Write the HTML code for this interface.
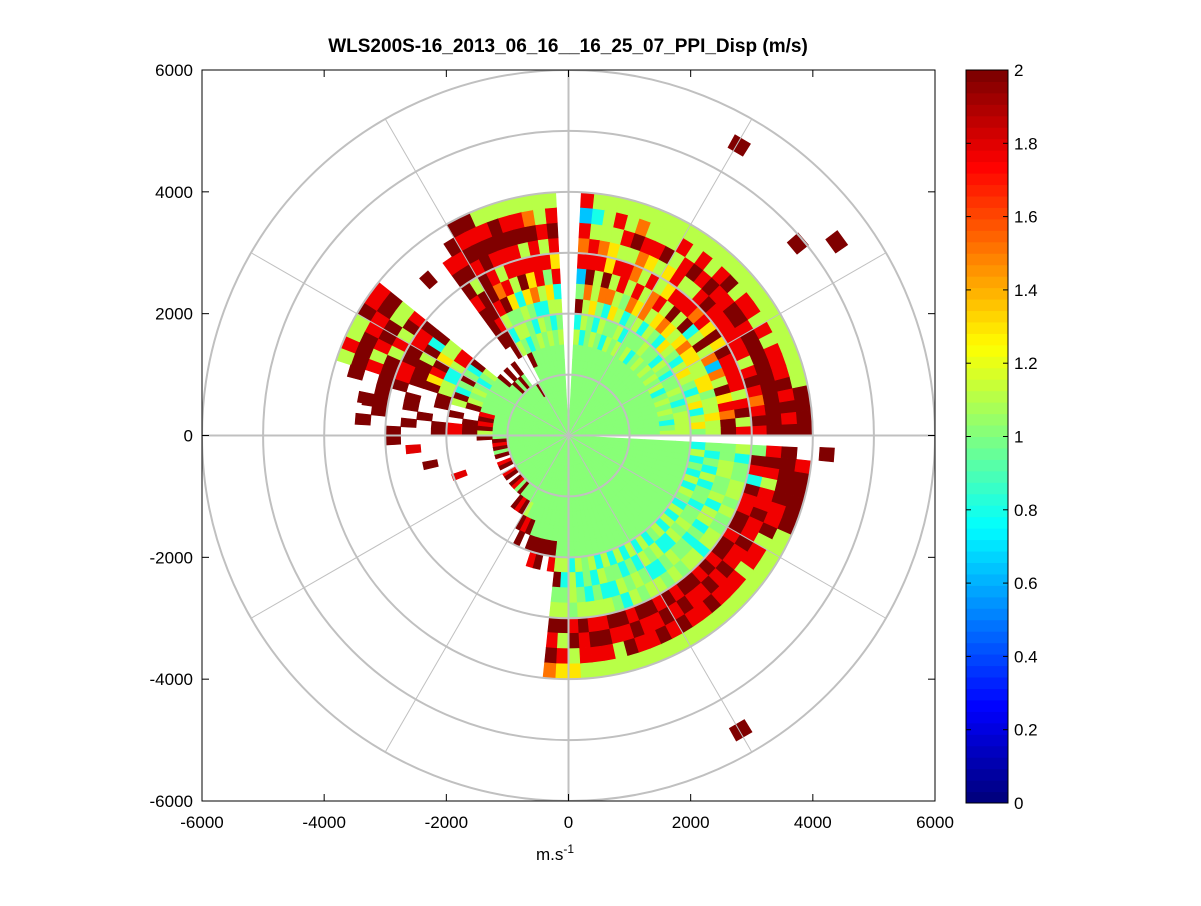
<!DOCTYPE html>
<html><head><meta charset="utf-8"><style>
body{margin:0;background:#fff;font-family:"Liberation Sans",sans-serif;}
svg text{font-family:"Liberation Sans",sans-serif;}
</style></head><body>
<svg id="chart" width="1201" height="901" viewBox="0 0 1201 901" xmlns="http://www.w3.org/2000/svg">
<rect width="1201" height="901" fill="#fff"/>
<text x="568" y="52" text-anchor="middle" font-size="19" font-weight="bold">WLS200S-16_2013_06_16__16_25_07_PPI_Disp (m/s)</text>
<defs><clipPath id="plotclip"><rect x="202" y="70" width="733" height="731"/></clipPath></defs>
<g id="cells" clip-path="url(#plotclip)"></g>
<g id="grid" clip-path="url(#plotclip)"></g>
<rect x="202" y="70" width="733" height="731" fill="none" stroke="#000" stroke-width="1"/>
<g id="axes"></g>
<text x="555" y="860" text-anchor="middle" font-size="17">m.s<tspan dy="-7" font-size="12">-1</tspan></text>
<g id="cbar"></g>
</svg>
<script>
// ---- data ----
const ringStep = 250; // metres per range gate
const rayWidth = 3;   // degrees per ray
const rayAngles = [0,3,6,9,12,15,18,21,24,27,30,33,36,39,42,45,48,51,54,57,60,63,66,69,72,75,78,81,84,
 93,96,99,102,105,108,111,114,117,120,123,
 126,129,132,135,138,
 141,144,147,150,153,156,159,162,165,168,171,174,177,
 180,183,186,189,192,195,198,201,204,207,210,213,216,219,222,225,228,231,234,237,240,243,246,249,252,255,258,261,
 264,267,270,273,276,279,282,285,288,291,294,297,300,303,306,309,312,315,318,321,324,327,330,333,336,339,342,345,348,351,354];
// one char per range gate: digit = level index (see valueLevels), 'X' = 2, '.' = no data
const valueLevels = [0.1,0.3,0.5,0.65,0.8,1.0,1.1,1.3,1.5,1.75];
const rayValues = [
"5555556656X99XXX","5555555676X6XX9X","55555546678X9XXX","5555555646998X9X","5555556576769XX6",
"5555555465X9XX96","5555556547699X96","5555555657896X96","5555554566399X66","55555565768X9X96",
"5555555467679966","5555556547XX9X96","5555555658679X96","5555556467499966","5555555576X8X9X6",
"5555556547699X96","5555555658X96966","5555554567696X96","5555556546979966","5555555568867696",
"5555556457696X66","5555555648967966","5555556565688966","5555554576996X86","5555555648696966",
"5555556458X77696","5555555576698666","5555554668X99646","55555564X5398939",
"5555556564979X96","5555555467596966","5555556546999X86","5555555648796X96","5555556457X99X96",
"5555555564699XX6","5555554657969X96","55555X565X89XX9X","5555..6469XX9X9X","555X..XX9XX6X9X.","5555...XXX9XX9..",
"55555X..........","5555X...........","55555X..........","5555X...........","55555X..........",
"5555556X96XX96X9","555555549649X6X9","5555554567X96X9X","5555555X4X6X9X96","5555556549XX69X6",
"5555555467X9X6X9","5555556X6XX9X9X6","555555X6X..XX.X.","555559..X.X.X...","55555X.X..X.XX..",
"555559X..X..X...","55555XX9X.X..X..","555556X9X..X....",
"55555X.....X....","5555X...........","55559...........","5555X...........","55555...........",
"5555X...........","5555............","55559...........","5555X...........","5555............",
"55559...........","5555X...........","5555............","5555X...........","55559...........",
"55555...........","5555X...........","55555X..........","555559..........","55555X..........",
"555556X.........","5555559X........","555555X.........","5555555X........","5555555X9.......","5555555XX.......",
"5555555X........","5555555X9.......",
"555555556X56X9X8","555555556456X697","5555555546659X67","555555556456X996","5555555555469X96",
"5555555564569X96","555555554646X966","555555556545X9X6","5555555545649X96","555555556456X996",
"555555554565X9X6","5555555564569X96","555555554646X9X6","5555555565459X96","555555554656X996",
"555555555465X9X6","5555555564569X96","555555554656X996","5555555565449X96","555555554656X966",
"555555556546X996","5555555545659X96","555555555465X966","555555556546X9X6","5555555545659X9X",
"555555556456999X","555555554656X9XX","55555555546546XX","55555555456599XX","555555556454XXX9","55555555455659X."
];
// isolated far returns: angle (deg), range (m), value
const outlierAngles = [59.6,40,35.9,131.9,-59.8,-4.2,191.9,185,170,200];
const outlierRanges = [5520,4900,5420,3430,5600,4240,2310,2550,3300,1900];
const outlierValues = [2,2,2,2,2,2,2,1.8,2,1.8];
const cbarTicks = [0,0.2,0.4,0.6,0.8,1,1.2,1.4,1.6,1.8,2];
const axisTicks = [-6000,-4000,-2000,0,2000,4000,6000];
const gridRadii = [1000,2000,3000,4000,5000,6000];
const spokeAngles = [0,30,60,90,120,150,180,210,240,270,300,330];

// ---- scales ----
const X0=202,X1=935,Y0=70,Y1=801;
const xs=v=>X0+(v+6000)/12000*(X1-X0);
const ys=v=>Y1-(v+6000)/12000*(Y1-Y0);
const px=(a,r)=>xs(r*Math.cos(a*Math.PI/180));
const py=(a,r)=>ys(r*Math.sin(a*Math.PI/180));
function jet(v){
  let t=Math.max(0,Math.min(1,v/2)); t=Math.min(63,Math.floor(t*64))/63;
  const f=x=>Math.max(0,Math.min(1,x));
  const r=f(1.5-Math.abs(4*t-3)),g=f(1.5-Math.abs(4*t-2)),b=f(1.5-Math.abs(4*t-1));
  return `rgb(${Math.round(r*255)},${Math.round(g*255)},${Math.round(b*255)})`;
}
const NS='http://www.w3.org/2000/svg';
function cell(parent,a0,a1,r0,r1,v){
  const p=document.createElementNS(NS,'path');
  const d=`M${px(a0,r0)},${py(a0,r0)}L${px(a0,r1)},${py(a0,r1)}L${px(a1,r1)},${py(a1,r1)}L${px(a1,r0)},${py(a1,r0)}Z`;
  p.setAttribute('d',d);p.setAttribute('fill',jet(v));p.setAttribute('stroke',jet(v));p.setAttribute('stroke-width','0.6');
  
  
  parent.appendChild(p);
}
const cells=document.getElementById('cells');
rayAngles.forEach((a,i)=>{
  const s=rayValues[i]||'';
  for(let k=0;k<s.length;k++){
    const c=s[k]; if(c==='.')continue;
    const v=c==='X'?2:valueLevels[parseInt(c)];
    cell(cells,a,a+rayWidth,k*ringStep,(k+1)*ringStep,v);
  }
});
outlierAngles.forEach((a,i)=>{
  cell(cells,a-1.5,a+1.5,outlierRanges[i]-120,outlierRanges[i]+120,outlierValues[i]);
});
// grid
const grid=document.getElementById('grid');
gridRadii.forEach(r=>{
  const e=document.createElementNS(NS,'ellipse');
  e.setAttribute('cx',xs(0));e.setAttribute('cy',ys(0));
  e.setAttribute('rx',xs(r)-xs(0));e.setAttribute('ry',ys(0)-ys(r));
  e.setAttribute('fill','none');e.setAttribute('stroke','#c0c0c0');e.setAttribute('stroke-width','2');
  
  
  grid.appendChild(e);
});
spokeAngles.forEach(a=>{
  const l=document.createElementNS(NS,'line');
  l.setAttribute('x1',xs(0));l.setAttribute('y1',ys(0));l.setAttribute('x2',px(a,6000));l.setAttribute('y2',py(a,6000));
  l.setAttribute('stroke','#c0c0c0');l.setAttribute('stroke-width',(a%90===0)?'2':'1');
  
  
  grid.appendChild(l);
});
// axes ticks
const axes=document.getElementById('axes');
function line(par,x1,y1,x2,y2,name){const l=document.createElementNS(NS,'line');
 l.setAttribute('x1',x1);l.setAttribute('y1',y1);l.setAttribute('x2',x2);l.setAttribute('y2',y2);l.setAttribute('stroke','#000');
 
 
 par.appendChild(l);}
function text(par,x,y,s,anchor,name){const t=document.createElementNS(NS,'text');
 t.setAttribute('x',x);t.setAttribute('y',y);t.setAttribute('text-anchor',anchor);t.setAttribute('font-size','17');t.textContent=s;
 
 
 par.appendChild(t);}
axisTicks.forEach(v=>{
  const x=xs(v),y=ys(v);
  line(axes,x,Y1,x,Y1-7,'x-tick');line(axes,x,Y0,x,Y0+7,'x-tick');
  line(axes,X0,y,X0+7,y,'y-tick');line(axes,X1,y,X1-7,y,'y-tick');
  text(axes,x,828,String(v),'middle','x-tick-label');
  text(axes,193,y+6,String(v),'end','y-tick-label');
});
// colorbar
const cb=document.getElementById('cbar');
const CX0=966,CX1=1008,CY0=70,CY1=803;
for(let i=0;i<64;i++){
  const r=document.createElementNS(NS,'rect');
  const h=(CY1-CY0)/64;
  r.setAttribute('x',CX0);r.setAttribute('y',CY1-(i+1)*h);r.setAttribute('width',CX1-CX0);r.setAttribute('height',h+0.5);
  r.setAttribute('fill',jet((i+0.5)/64*2));
  
  
  cb.appendChild(r);
}
const cbf=document.createElementNS(NS,'rect');
cbf.setAttribute('x',CX0);cbf.setAttribute('y',CY0);cbf.setAttribute('width',CX1-CX0);cbf.setAttribute('height',CY1-CY0);
cbf.setAttribute('fill','none');cbf.setAttribute('stroke','#000');


cb.appendChild(cbf);
cbarTicks.forEach(v=>{
  const y=CY1-v/2*(CY1-CY0);
  line(cb,CX0,y,CX0+5,y,'colorbar-tick');line(cb,CX1,y,CX1-5,y,'colorbar-tick');
  text(cb,1014,y+6,String(v),'start','colorbar-tick-label');
});
</script>
</body></html>
